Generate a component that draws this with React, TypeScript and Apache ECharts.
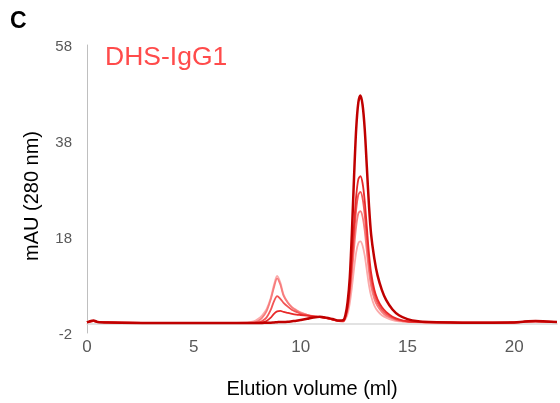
import React, { useEffect, useRef } from "react";
import * as echarts from "echarts";

const xs = [0, 0.3, 0.5, 1, 3, 5, 6, 7, 7.5, 7.8, 8.0, 8.2, 8.4, 8.6, 8.75, 8.9, 9.05, 9.2, 9.4, 9.6, 9.8, 10.0, 10.3, 10.6, 10.9, 11.2, 11.5, 11.8, 12.0, 12.1, 12.2, 12.3, 12.4, 12.5, 12.6, 12.7, 12.8, 12.9, 13.0, 13.1, 13.2, 13.3, 13.45, 13.6, 13.8, 14.0, 14.3, 14.6, 15.0, 15.5, 16, 17, 18, 19, 20, 20.5, 21, 21.5, 22];

const run1 = [0.2, 0.6, 0.3, 0.2, 0.1, 0.1, 0.1, 0.1, 0.1, 0.1, 0.1, 0.1, 0.15, 0.15, 0.2, 0.25, 0.3, 0.3, 0.35, 0.45, 0.55, 0.7, 0.95, 1.25, 1.4, 1.2, 0.9, 0.6, 0.7, 1.8, 4.5, 9.5, 19, 30.5, 40.5, 46, 47.5, 45.5, 40.5, 32.5, 24.5, 18.5, 13.5, 10, 7, 4.9, 2.9, 1.7, 0.9, 0.45, 0.3, 0.2, 0.15, 0.15, 0.2, 0.4, 0.5, 0.4, 0.3];
const run2 = [0.2, 0.5, 0.3, 0.2, 0.1, 0.1, 0.1, 0.1, 0.1, 0.1, 0.1, 0.2, 0.5, 1.2, 2.0, 2.5, 2.6, 2.4, 2.2, 2.0, 1.85, 1.75, 1.6, 1.45, 1.35, 1.1, 0.8, 0.5, 0.5, 1.5, 3.5, 7.5, 13.5, 20.5, 26.5, 30, 30.7, 29.2, 25.5, 20, 14.5, 10.5, 7.0, 5.0, 3.4, 2.4, 1.4, 0.85, 0.45, 0.3, 0.25, 0.2, 0.15, 0.15, 0.2, 0.35, 0.45, 0.35, 0.3];
const run3 = [0.2, 0.5, 0.3, 0.2, 0.1, 0.1, 0.1, 0.1, 0.1, 0.1, 0.2, 0.5, 1.2, 2.8, 4.6, 5.7, 5.1, 4.3, 3.5, 2.8, 2.4, 2.0, 1.7, 1.4, 1.3, 1.1, 0.8, 0.5, 0.5, 1.4, 3.2, 6.8, 12, 18.3, 23.7, 26.8, 27.4, 26, 22.6, 17.6, 12.7, 9.2, 6.1, 4.3, 2.9, 2.0, 1.2, 0.7, 0.4, 0.3, 0.2, 0.2, 0.15, 0.15, 0.2, 0.35, 0.45, 0.35, 0.3];
const run4 = [0.2, 0.5, 0.3, 0.2, 0.1, 0.1, 0.1, 0.1, 0.1, 0.2, 0.5, 1.2, 2.5, 5.0, 7.5, 9.4, 8.1, 5.8, 4.3, 3.3, 2.7, 2.2, 1.8, 1.5, 1.3, 1.1, 0.8, 0.5, 0.45, 1.2, 2.8, 5.8, 10.3, 15.6, 20.2, 22.9, 23.4, 22.2, 19.3, 15, 10.8, 7.8, 5.1, 3.6, 2.4, 1.6, 1.0, 0.6, 0.35, 0.25, 0.2, 0.2, 0.15, 0.15, 0.2, 0.35, 0.45, 0.35, 0.3];
const run5 = [0.2, 0.5, 0.3, 0.2, 0.1, 0.1, 0.1, 0.1, 0.2, 0.4, 0.9, 1.7, 2.9, 5.3, 8.0, 9.9, 8.5, 6.0, 4.4, 3.4, 2.8, 2.3, 1.8, 1.5, 1.3, 1.1, 0.8, 0.5, 0.4, 0.9, 2.0, 4.2, 7.5, 11.4, 14.8, 16.7, 17.1, 16.2, 14.1, 11, 7.9, 5.7, 3.7, 2.6, 1.7, 1.2, 0.7, 0.45, 0.3, 0.2, 0.15, 0.15, 0.15, 0.15, 0.2, 0.35, 0.45, 0.35, 0.3];

const runs = [run5, run4, run3, run2, run1];
const colors = ["#fbaaaa", "#f77c7c", "#f25454", "#e82a2a", "#c00000"];
const widths = [1.8, 1.8, 1.8, 1.8, 2.5];

const xTicks = [0, 5, 10, 15, 20];
const yTicks = [-2, 18, 38, 58];

const FONT = "Liberation Sans, Arial, sans-serif";

export default function App() {
  const ref = useRef<HTMLDivElement>(null);
  useEffect(() => {
    if (!ref.current) return;
    const chart = echarts.init(ref.current, undefined, { renderer: "svg" });
    chart.setOption({
      animation: false,
      grid: { left: 87, right: 2, top: 45, bottom: 70, containLabel: false },
      xAxis: {
        type: "value",
        min: 0,
        max: 22,
        interval: 5,
        axisLine: { onZero: true, lineStyle: { color: "#d9d9d9", width: 1.5 } },
        axisTick: { show: false },
        splitLine: { show: false },
        axisLabel: {
          color: "#595959",
          fontSize: 17,
          fontFamily: FONT,
          margin: 5,
          formatter: (v: number) => (xTicks.includes(v) ? String(v) : ""),
        },
      },
      yAxis: {
        type: "value",
        min: yTicks[0],
        max: yTicks[yTicks.length - 1],
        interval: 20,
        axisLine: { show: true, onZero: false, lineStyle: { color: "#bfbfbf", width: 1 } },
        axisTick: { show: false },
        splitLine: { show: false },
        axisLabel: {
          color: "#595959",
          fontSize: 15,
          fontFamily: FONT,
          margin: 15,
        },
      },
      graphic: [
        { type: "text", left: 10, top: 8, style: { text: "C", font: `bold 23px ${FONT}`, fill: "#000" } },
        { type: "text", left: 105, top: 42, style: { text: "DHS-IgG1", font: `26.5px ${FONT}`, fill: "#ff4b4b" } },
        {
          type: "text",
          x: 31,
          y: 196,
          rotation: Math.PI / 2,
          style: { text: "mAU (280 nm)", font: `20px ${FONT}`, fill: "#000", align: "center", verticalAlign: "middle" },
        },
        {
          type: "text",
          x: 312,
          y: 388,
          style: { text: "Elution volume (ml)", font: `20px ${FONT}`, fill: "#000", align: "center", verticalAlign: "middle" },
        },
      ],
      series: runs.map((r, i) => ({
        type: "line",
        data: xs.map((x, j) => [x, r[j]]),
        showSymbol: false,
        smooth: 0.3,
        lineStyle: { color: colors[i], width: widths[i] },
        z: 2 + i,
      })),
    });
    return () => chart.dispose();
  }, []);
  return <div ref={ref} style={{ position: "fixed", left: 0, top: 0, width: 560, height: 403 }} />;
}
